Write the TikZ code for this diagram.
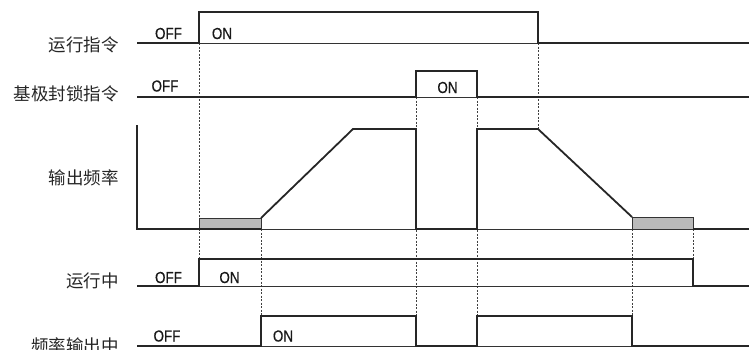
\documentclass[tikz,border=0pt]{standalone}
\usepackage{fontspec}
\newfontfamily\cjk{Noto Sans CJK SC}
\newfontfamily\cond[FakeStretch=0.84,FakeBold=0.4]{Liberation Sans}
\begin{document}
\begin{tikzpicture}[x=1pt,y=-1pt,
  thickline/.style={line width=1.8pt, color=black!85, line join=miter},
  thinline/.style={line width=0.9pt, color=black!80},
  guide/.style={line width=0.6pt, dash pattern=on 2pt off 1.5pt, color=black!75},
  lbl/.style={font=\cjk\fontsize{17.5}{18}\selectfont, anchor=east, inner sep=0pt, text=black!85},
  st/.style={font=\cond\fontsize{16}{16}\selectfont, inner sep=0pt, text=black!90},
  blk/.style={fill=black!27, draw=black!80, line width=0.8pt}]
\useasboundingbox (0,0) rectangle (749,349);

% guides
\draw[guide] (199,43) -- (199,259);
\draw[guide] (261,229) -- (261,316);
\draw[guide] (416,97) -- (416,316);
\draw[guide] (477,97) -- (477,316);
\draw[guide] (538,43) -- (538,129);
\draw[guide] (632,229) -- (632,316);
\draw[guide] (693,229) -- (693,259);

% row 1
\draw[thinline] (199,43) -- (538,43);
\draw[thickline] (137,43) -- (199,43) -- (199,12) -- (538,12) -- (538,43) -- (749,43);
% row 2
\draw[thinline] (416,97) -- (477,97);
\draw[thickline] (137,97) -- (416,97) -- (416,71) -- (477,71) -- (477,97) -- (749,97);
% row 3
\draw[thinline] (137,229) -- (749,229);
\draw[blk] (199,218) rectangle (261,229);
\draw[blk] (632,217) rectangle (693,229);
\draw[thickline] (137,125) -- (137,229) -- (261,229);
\draw[thickline] (261,218) -- (353,129) -- (416,129) -- (416,229) -- (477,229) -- (477,129) -- (538,129) -- (632,217);
\draw[thickline] (693,229) -- (749,229);
% row 4
\draw[thinline] (199,286) -- (693,286);
\draw[thickline] (137,286) -- (199,286) -- (199,259) -- (693,259) -- (693,286) -- (749,286);
% row 5
\draw[thinline] (137,346) -- (749,346);
\draw[thickline] (137,346) -- (261,346) -- (261,316) -- (416,316) -- (416,346) -- (477,346) -- (477,316) -- (632,316) -- (632,346) -- (749,346);

% labels
\node[lbl] (l1) at (119,45) {运行指令};
\node[lbl] (l2) at (119,94) {基极封锁指令};
\node[lbl] (l3) at (119,177.5) {输出频率};
\node[lbl] (l4) at (119,281) {运行中};
\node[lbl] (l5) at (119,346) {频率输出中};

% states
\node[st] (s1a) at (168.5,33.5) {OFF};
\node[st] (s1b) at (222,33.5) {ON};
\node[st] (s2a) at (165,86) {OFF};
\node[st] (s2b) at (447.5,87.5) {ON};
\node[st] (s4a) at (168.5,277.5) {OFF};
\node[st] (s4b) at (229.5,277.5) {ON};
\node[st] (s5a) at (167,336) {OFF};
\node[st] (s5b) at (283,336) {ON};
\end{tikzpicture}
\end{document}
